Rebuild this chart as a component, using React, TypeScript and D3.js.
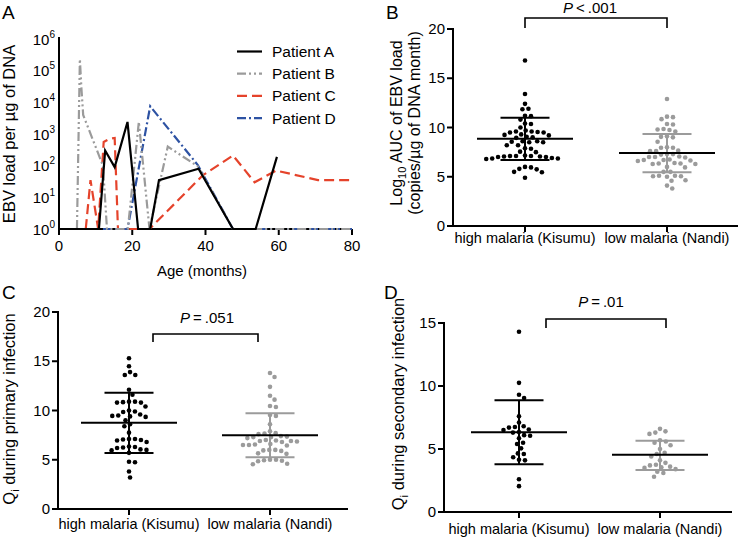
import React from "react";
import * as d3 from "d3";

const FONT = "'Liberation Sans', Arial, Helvetica, sans-serif";

// ---------- Panel A data ----------
const ageTicks = [0, 20, 40, 60, 80];
const loadTickExps = [0, 1, 2, 3, 4, 5, 6];
const patientLabels = ["Patient A", "Patient B", "Patient C", "Patient D"];
const patientAMonths = [3, 10.9, 12.6, 15.2, 18.7, 21.6, 24.9, 27.3, 38.1, 47.5, 53.7, 59.5];
const patientALoads = [1, 1, 300, 90, 2400, 1, 1, 35, 80, 1, 1, 190];
const patientBMonths = [4.9, 5.7, 6.1, 6.6, 12.0, 13.1, 18.8, 21.8, 24.7, 29.7, 37.9, 47.5, 80];
const patientBLoads = [1, 230000, 30000, 4000, 100, 1, 1, 2400, 1, 400, 95, 1, 1];
const patientCMonths = [7.3, 8.6, 10.7, 12.2, 13.8, 15.2, 16.1, 24.7, 39.3, 47.5, 53.4, 59.3, 70.7, 79.8];
const patientCLoads = [1, 35, 1, 560, 700, 750, 1, 1, 50, 210, 30, 70, 35, 35];
const patientDMonths = [12, 18.7, 24.9, 37.9, 47.5, 80];
const patientDLoads = [1, 1, 7500, 105, 1, 1];

// ---------- Dot panels data ----------
const groupLabels = ["high malaria (Kisumu)", "low malaria (Nandi)"];

const bTicks = [0, 5, 10, 15, 20];
const bHigh = [16.8, 13.4, 12.4, 11.9, 11.85, 11.2, 11.15, 10.8, 10.4, 10.35, 10.0, 9.7, 9.6, 9.6, 9.55, 9.5, 9.5, 9.3, 9.25, 9.2, 9.05, 9.0, 8.95, 8.6, 8.6, 8.55, 8.5, 8.5, 8.2, 8.2, 7.9, 7.85, 7.55, 7.5, 7.15, 7.1, 7.1, 7.1, 7.05, 7.05, 7.0, 7.0, 6.9, 6.85, 6.85, 6.8, 6.0, 5.95, 5.8, 5.75, 5.5, 5.45, 4.9];
const bLow = [12.9, 11.1, 11.05, 10.85, 10.35, 10.3, 9.85, 9.8, 9.75, 9.6, 9.1, 9.05, 9.0, 8.55, 8.0, 7.95, 7.95, 7.65, 7.6, 7.6, 7.3, 7.3, 7.25, 7.05, 7.0, 7.0, 6.95, 6.75, 6.7, 6.7, 6.65, 6.6, 6.4, 6.35, 6.35, 6.3, 6.3, 6.0, 5.95, 5.5, 5.5, 5.1, 5.1, 5.05, 5.05, 5.0, 4.65, 4.6, 4.1, 3.8];
const bMeans = [8.85, 7.41];
const bSdLow = [6.7, 5.45];
const bSdHigh = [11.0, 9.34];

const cTicks = [0, 5, 10, 15, 20];
const cHigh = [15.3, 14.5, 13.9, 13.6, 13.6, 12.1, 11.6, 10.9, 10.9, 10.85, 10.8, 10.8, 10.4, 10.0, 9.9, 9.85, 9.6, 9.5, 9.45, 9.4, 9.35, 9.0, 8.6, 8.4, 7.75, 7.1, 7.1, 7.05, 7.0, 6.95, 6.8, 6.35, 6.3, 6.25, 6.2, 6.05, 6.0, 5.95, 5.7, 4.8, 4.75, 3.8, 3.2];
const cLow = [13.8, 13.4, 12.4, 11.5, 11.1, 10.45, 10.35, 9.55, 9.45, 8.6, 7.9, 7.7, 7.65, 7.6, 7.4, 7.35, 7.3, 7.3, 7.2, 7.0, 6.95, 6.9, 6.9, 6.85, 6.8, 6.6, 6.55, 6.5, 6.5, 6.45, 6.0, 6.0, 5.95, 5.9, 5.65, 5.6, 5.0, 5.0, 4.95, 4.9, 4.85, 4.6, 4.55];
const cMeans = [8.76, 7.48];
const cSdLow = [5.69, 5.25];
const cSdHigh = [11.8, 9.71];

const dTicks = [0, 5, 10, 15];
const dHigh = [14.3, 10.25, 9.3, 9.05, 7.6, 7.1, 6.8, 6.75, 6.7, 6.55, 6.5, 6.35, 6.3, 6.1, 6.05, 5.85, 5.5, 5.4, 5.05, 4.65, 4.6, 4.35, 4.15, 4.1, 2.6, 2.05];
const dLow = [6.6, 6.4, 6.3, 6.2, 5.7, 5.6, 5.5, 5.3, 5.0, 4.7, 4.6, 4.4, 4.1, 3.9, 3.75, 3.7, 3.6, 3.55, 3.5, 3.4, 3.2, 3.1, 2.8];
const dMeans = [6.33, 4.55];
const dSdLow = [3.79, 3.33];
const dSdHigh = [8.87, 5.66];

const GROUP_COLORS = ["#000000", "#9b9b9b"];

function swarm(vals: number[], yS: (v: number) => number, d: number) {
  const pts = vals.map((v) => ({ y: yS(v), x: 0 })).sort((a, b) => a.y - b.y);
  const placed: { x: number; y: number }[] = [];
  for (const p of pts) {
    const cands = [0];
    for (const q of placed) {
      const dy = Math.abs(q.y - p.y);
      if (dy < d) {
        const dx = Math.sqrt(d * d - dy * dy);
        cands.push(q.x + dx + 0.01, q.x - dx - 0.01);
      }
    }
    cands.sort((a, b) => Math.abs(a) - Math.abs(b));
    for (const c of cands) {
      if (placed.every((q) => (q.x - c) ** 2 + (q.y - p.y) ** 2 >= d * d - 0.01)) {
        p.x = c;
        break;
      }
    }
    placed.push(p);
  }
  return placed;
}

function PanelA() {
  const x = d3.scaleLinear().domain([0, 80]).range([59, 352]);
  const y = d3.scaleLog().domain([1, 1e6]).range([229, 39]);
  const series = [
    { m: patientAMonths, v: patientALoads, color: "#000000", dash: undefined as string | undefined },
    { m: patientBMonths, v: patientBLoads, color: "#9b9b9b", dash: "9,3,2,3,2,3" },
    { m: patientCMonths, v: patientCLoads, color: "#e5432b", dash: "10,5" },
    { m: patientDMonths, v: patientDLoads, color: "#2d52a3", dash: "9,3,2,3" },
  ];
  const line = d3
    .line<[number, number]>()
    .x((d) => x(d[0]))
    .y((d) => y(d[1]));
  const drawOrder = [3, 2, 1, 0];
  return (
    <g>
      <text x={2} y={19} fontSize={19} fontFamily={FONT}>A</text>
      <line x1={59} x2={59} y1={y(1e6) - 2} y2={229} stroke="#000" strokeWidth={2} />
      <line x1={58} x2={x(80)} y1={229} y2={229} stroke="#000" strokeWidth={2} />
      {ageTicks.map((t) => (
        <g key={t}>
          <line x1={x(t)} x2={x(t)} y1={229} y2={235} stroke="#000" strokeWidth={2} />
          <text x={x(t)} y={251} fontSize={15} textAnchor="middle" fontFamily={FONT}>{t}</text>
        </g>
      ))}
      {loadTickExps.map((e) => (
        <text key={e} x={55} y={y(Math.pow(10, e)) + 5.5} fontSize={15} textAnchor="end" fontFamily={FONT}>
          10<tspan fontSize={10} dy={-7}>{e}</tspan>
        </text>
      ))}
      <text x={202} y={276} fontSize={15} textAnchor="middle" fontFamily={FONT}>Age (months)</text>
      <text transform="translate(14.5,134) rotate(-90)" fontSize={16.5} textAnchor="middle" fontFamily={FONT}>
        EBV load per µg of DNA
      </text>
      {drawOrder.map((i) => {
        const s = series[i];
        const pts = s.m.map((m, k) => [m, s.v[k]] as [number, number]);
        return (
          <path key={i} d={line(pts) || ""} fill="none" stroke={s.color} strokeWidth={2.2}
            strokeDasharray={s.dash} strokeLinejoin="miter" />
        );
      })}
      {series.map((s, i) => {
        const ly = 51.5 + i * 22.2;
        return (
          <g key={i}>
            <line x1={237} x2={262} y1={ly} y2={ly} stroke={s.color} strokeWidth={2.2} strokeDasharray={s.dash} />
            <text x={272} y={ly + 5.5} fontSize={15.5} fontFamily={FONT}>{patientLabels[i]}</text>
          </g>
        );
      })}
    </g>
  );
}

type DotCfg = {
  letter: string;
  letterX: number;
  letterY: number;
  axisLeft: number;
  axisRight: number;
  axisY: number;
  axisTop: number;
  yMax: number;
  ticks: number[];
  centers: number[];
  groups: number[][];
  means: number[];
  sdLow: number[];
  sdHigh: number[];
  bracket: [number, number, number, number];
  pRest: string;
  pX: number;
  pY: number;
  labelY: number;
  title: React.ReactNode;
};

function DotPanel({ cfg }: { cfg: DotCfg }) {
  const y = d3.scaleLinear().domain([0, cfg.yMax]).range([cfg.axisY, cfg.axisTop]);
  const r = 2.3;
  const meanHalf = 48;
  const sdHalf = 24.5;
  const [bx1, bx2, byTop, byBot] = cfg.bracket;
  return (
    <g>
      <text x={cfg.letterX} y={cfg.letterY} fontSize={19} fontFamily={FONT}>{cfg.letter}</text>
      {cfg.title}
      <line x1={cfg.axisLeft} x2={cfg.axisLeft} y1={cfg.axisTop - 1} y2={cfg.axisY} stroke="#000" strokeWidth={2} />
      <line x1={cfg.axisLeft - 1} x2={cfg.axisRight} y1={cfg.axisY} y2={cfg.axisY} stroke="#000" strokeWidth={2} />
      {cfg.ticks.map((t) => (
        <g key={t}>
          <line x1={cfg.axisLeft - 6} x2={cfg.axisLeft} y1={y(t)} y2={y(t)} stroke="#000" strokeWidth={2} />
          <text x={cfg.axisLeft - 8} y={y(t) + 5.2} fontSize={15} textAnchor="end" fontFamily={FONT}>{t}</text>
        </g>
      ))}
      {cfg.centers.map((c, i) => (
        <g key={i}>
          <line x1={c} x2={c} y1={cfg.axisY} y2={cfg.axisY + 6} stroke="#000" strokeWidth={2} />
          <text x={c} y={cfg.labelY} fontSize={14.5} textAnchor="middle" fontFamily={FONT}>{groupLabels[i]}</text>
        </g>
      ))}
      {cfg.groups.map((vals, gi) => {
        const pts = swarm(vals, (v) => y(v), 6);
        const c = cfg.centers[gi];
        const col = GROUP_COLORS[gi];
        return (
          <g key={gi}>
            {pts.map((p, k) => (
              <circle key={k} cx={c + p.x} cy={p.y} r={r} fill={col} />
            ))}
            <line x1={c} x2={c} y1={y(cfg.sdLow[gi])} y2={y(cfg.sdHigh[gi])} stroke={col} strokeWidth={2} />
            <line x1={c - sdHalf} x2={c + sdHalf} y1={y(cfg.sdLow[gi])} y2={y(cfg.sdLow[gi])} stroke={col} strokeWidth={2} />
            <line x1={c - sdHalf} x2={c + sdHalf} y1={y(cfg.sdHigh[gi])} y2={y(cfg.sdHigh[gi])} stroke={col} strokeWidth={2} />
            <line x1={c - meanHalf} x2={c + meanHalf} y1={y(cfg.means[gi])} y2={y(cfg.means[gi])} stroke="#000" strokeWidth={2} />
          </g>
        );
      })}
      <path d={`M${bx1},${byBot}V${byTop}H${bx2}V${byBot}`} fill="none" stroke="#000" strokeWidth={1.6} />
      <text x={cfg.pX} y={cfg.pY} fontSize={15} textAnchor="middle" fontFamily={FONT}>
        <tspan fontStyle="italic">P</tspan>
        {cfg.pRest}
      </text>
    </g>
  );
}

export default function App() {
  const panelB: DotCfg = {
    letter: "B", letterX: 386, letterY: 19,
    axisLeft: 453, axisRight: 738, axisY: 226, axisTop: 29, yMax: 20,
    ticks: bTicks, centers: [525, 667], groups: [bHigh, bLow],
    means: bMeans, sdLow: bSdLow, sdHigh: bSdHigh,
    bracket: [525, 667, 18, 28], pRest: "\u2009<\u2009.001", pX: 590, pY: 13, labelY: 243,
    title: (
      <g>
        <text transform="translate(402,123) rotate(-90)" fontSize={16} textAnchor="middle" fontFamily={FONT}>
          Log<tspan fontSize={11} dy={4}>10</tspan><tspan dy={-4}> AUC of EBV load</tspan>
        </text>
        <text transform="translate(420,123) rotate(-90)" fontSize={16} textAnchor="middle" fontFamily={FONT}>
          (copies/µg of DNA month)
        </text>
      </g>
    ),
  };
  const panelC: DotCfg = {
    letter: "C", letterX: 2, letterY: 299,
    axisLeft: 58, axisRight: 348, axisY: 509, axisTop: 312, yMax: 20,
    ticks: cTicks, centers: [129, 270], groups: [cHigh, cLow],
    means: cMeans, sdLow: cSdLow, sdHigh: cSdHigh,
    bracket: [153, 258, 334, 342], pRest: "\u2009=\u2009.051", pX: 207, pY: 323, labelY: 529,
    title: (
      <text transform="translate(15,409) rotate(-90)" fontSize={16.5} textAnchor="middle" fontFamily={FONT}>
        Q<tspan fontSize={11} dy={4}>i</tspan><tspan dy={-4}> during primary infection</tspan>
      </text>
    ),
  };
  const panelD: DotCfg = {
    letter: "D", letterX: 384, letterY: 299,
    axisLeft: 444, axisRight: 732, axisY: 512, axisTop: 323, yMax: 15,
    ticks: dTicks, centers: [519, 660], groups: [dHigh, dLow],
    means: dMeans, sdLow: dSdLow, sdHigh: dSdHigh,
    bracket: [546, 666, 319, 328], pRest: "\u2009=\u2009.01", pX: 601, pY: 307, labelY: 534,
    title: (
      <text transform="translate(404,404) rotate(-90)" fontSize={16.5} textAnchor="middle" fontFamily={FONT}>
        Q<tspan fontSize={11} dy={4}>i</tspan><tspan dy={-4}> during secondary infection</tspan>
      </text>
    ),
  };
  return (
    <div style={{ position: "absolute", left: 0, top: 0 }}>
      <svg width={743} height={538} style={{ display: "block", background: "#fff" }}>
        <PanelA />
        <DotPanel cfg={panelB} />
        <DotPanel cfg={panelC} />
        <DotPanel cfg={panelD} />
      </svg>
    </div>
  );
}
